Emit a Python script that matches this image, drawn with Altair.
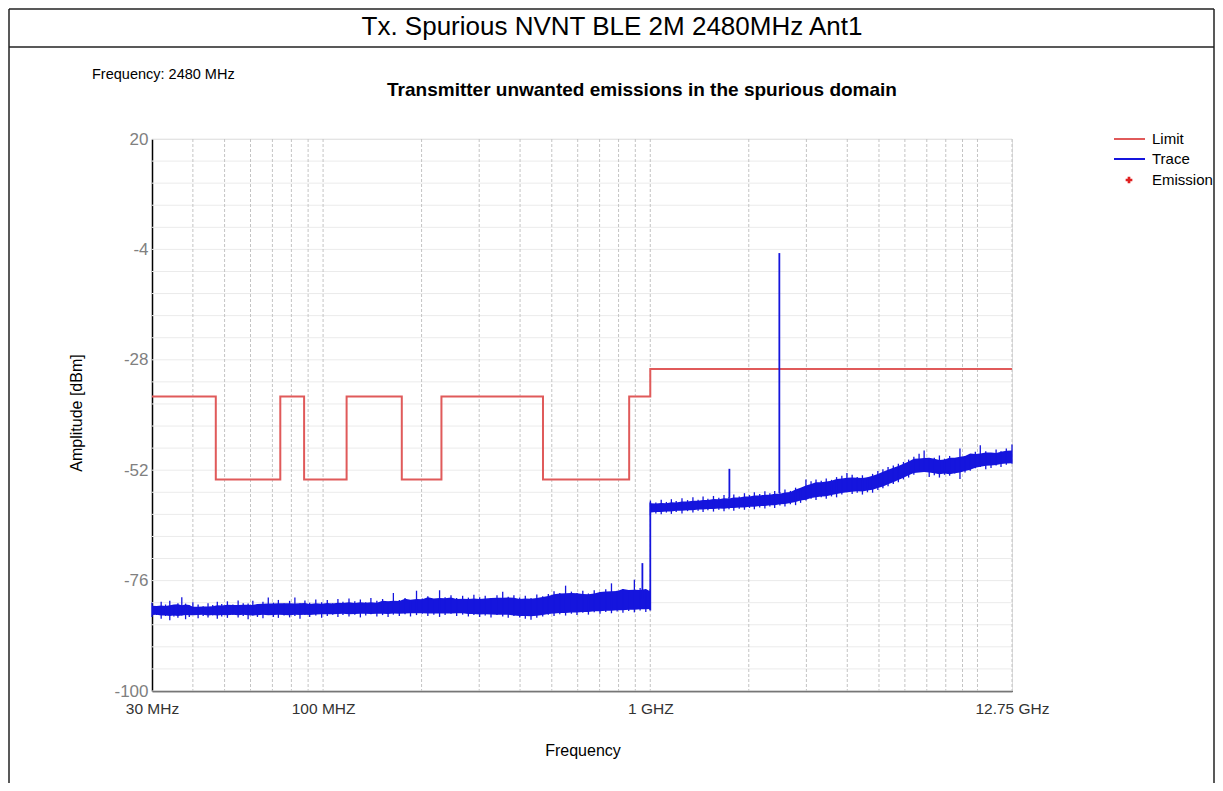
import altair as alt
import pandas as pd

# ---------------- data ----------------
# Limit line (MHz, dBm), drawn as a step-after line
limit_freq = [30, 47, 74, 87.5, 118, 174, 230, 470, 862, 1000, 12750]
limit_dbm = [-36, -54, -36, -54, -36, -54, -36, -54, -36, -30, -30]

# Trace envelope below 1 GHz (MHz) with upper / lower edge of the noisy band (dBm)
lo_freq = [30, 31, 32, 33, 34, 35, 36, 37, 38, 39, 40, 41.5, 43, 44.5, 46, 47.5, 49,
           51, 53, 55, 57, 59, 61, 63, 65.5, 68, 70.5, 73, 76, 79, 82, 85, 88, 91,
           95, 99, 103, 107, 111, 115, 120, 125, 130, 135, 140, 146, 152, 158, 164,
           171, 178, 185, 193, 201, 209, 218, 227, 236, 246, 256, 267, 278, 289,
           301, 313, 326, 340, 354, 368, 383, 399, 415, 432, 450, 469, 488, 508,
           529, 551, 574, 597, 622, 647, 674, 702, 731, 761, 792, 825, 859, 894,
           931, 969, 999]
lo_upper = [-80.8, -81.5, -80.6, -81.2, -80.4, -81.3, -80.9, -79.6, -81.0, -81.4,
            -80.7, -81.2, -81.6, -80.9, -81.3, -80.6, -81.1, -80.5, -81.2, -80.3,
            -80.9, -81.0, -80.4, -81.1, -80.6, -79.7, -80.8, -80.2, -81.0, -80.4,
            -79.7, -80.9, -80.3, -80.8, -80.1, -80.7, -80.2, -80.9, -80.0, -80.6,
            -79.9, -80.5, -80.1, -80.7, -79.8, -80.4, -80.0, -80.6, -78.7, -80.2,
            -79.8, -80.3, -78.2, -79.9, -79.4, -80.0, -78.1, -79.6, -79.2, -79.8,
            -79.3, -79.7, -79.1, -79.6, -79.3, -79.8, -79.2, -78.4, -79.5, -79.2,
            -79.7, -79.3, -79.8, -79.0, -79.4, -78.9, -78.3, -78.7, -77.1, -78.4,
            -78.7, -78.2, -78.8, -78.1, -78.5, -77.9, -76.6, -78.2, -77.8, -78.3,
            -75.8, -77.6, -78.0, -77.9]
lo_lower = [-83.9, -83.5, -84.3, -83.7, -84.6, -83.8, -84.1, -83.6, -84.4, -83.9,
            -83.5, -84.2, -83.7, -84.0, -83.6, -84.3, -83.8, -84.1, -83.5, -84.0,
            -83.7, -84.4, -83.6, -83.9, -84.2, -83.5, -83.9, -84.1, -83.6, -84.0,
            -83.7, -84.3, -83.5, -83.9, -83.6, -84.1, -83.7, -83.4, -83.9, -83.5,
            -83.8, -83.4, -84.0, -83.6, -83.3, -83.8, -83.5, -83.9, -83.4, -83.7,
            -83.3, -83.8, -83.5, -83.2, -83.7, -83.4, -83.9, -83.5, -83.2, -83.7,
            -83.4, -83.8, -83.5, -83.9, -83.6, -84.0, -83.5, -83.8, -84.1, -83.7,
            -84.0, -84.3, -84.5, -84.1, -83.8, -83.4, -83.7, -83.3, -83.6, -83.2,
            -83.5, -83.0, -83.4, -82.9, -83.2, -82.8, -83.1, -82.7, -83.0, -82.6,
            -82.9, -82.5, -82.8, -82.4]

# Trace envelope above 1 GHz
hi_freq = [1001, 1040, 1080, 1120, 1160, 1200, 1250, 1300, 1350, 1400, 1450, 1500,
           1560, 1620, 1680, 1740, 1800, 1870, 1940, 2010, 2080, 2160, 2240, 2320,
           2400, 2490, 2580, 2680, 2780, 2880, 2990, 3100, 3210, 3330, 3450, 3580,
           3710, 3850, 3990, 4140, 4290, 4450, 4610, 4780, 4960, 5140, 5330, 5530,
           5730, 5940, 6160, 6390, 6630, 6870, 7120, 7380, 7650, 7930, 8220, 8520,
           8840, 9160, 9500, 9850, 10200, 10600, 11000, 11400, 11800, 12250, 12750]
hi_upper = [-58.6, -59.0, -58.4, -58.9, -58.3, -58.7, -58.1, -58.5, -57.9, -58.4,
            -57.7, -58.2, -57.6, -58.0, -57.4, -57.8, -57.3, -57.7, -57.0, -57.4,
            -56.8, -57.2, -56.6, -57.0, -56.5, -56.8, -56.2, -56.5, -55.8, -55.9,
            -54.0, -54.4, -54.0, -54.3, -53.8, -54.1, -53.5, -53.2, -52.6, -53.0,
            -53.5, -53.1, -53.6, -52.8, -52.2, -51.8, -51.3, -51.0, -50.6, -50.2,
            -49.7, -49.1, -48.4, -47.7, -49.8, -49.3, -48.8, -49.5, -48.9, -49.4,
            -47.3, -48.9, -48.5, -48.0, -46.6, -47.9, -48.3, -47.5, -47.9, -47.3,
            -46.4]
hi_lower = [-61.8, -61.4, -61.6, -61.2, -61.5, -61.1, -61.4, -60.9, -61.2, -60.8,
            -61.1, -60.7, -61.0, -60.6, -60.9, -60.5, -60.8, -60.4, -60.6, -60.2,
            -60.5, -60.1, -60.3, -59.9, -60.2, -59.7, -59.9, -59.4, -59.6, -59.1,
            -58.6, -58.2, -58.5, -57.9, -58.2, -57.7, -57.9, -57.3, -56.8, -57.2,
            -56.9, -57.3, -56.8, -56.9, -56.3, -55.9, -55.5, -55.0, -54.6, -54.0,
            -53.6, -53.0, -52.4, -52.0, -53.5, -53.1, -53.6, -53.0, -53.2, -52.7,
            -53.9, -52.5, -52.1, -51.6, -51.3, -51.8, -51.5, -51.0, -51.3, -50.8,
            -50.6]

# Narrow vertical features of the trace (MHz, top dBm, bottom dBm):
# spike near 946 MHz, the 1 GHz step, spike at 1745 MHz, carrier at 2480 MHz
spike_freq = [946, 1000, 1745, 2480]
spike_top = [-72.2, -59.0, -51.7, -4.8]
spike_base = [-80.0, -82.5, -58.0, -57.0]

# Grid / tick positions
vgrid_freq = [40, 50, 60, 70, 80, 90, 100, 200, 300, 400, 500, 600, 700, 800, 900,
              1000, 2000, 3000, 4000, 5000, 6000, 7000, 8000, 9000, 10000, 12750]
x_tick_values = [30, 100, 1000, 12750]
x_tick_labels = ["30 MHz", "100 MHZ", "1 GHZ", "12.75 GHz"]
y_tick_values = [20, -4, -28, -52, -76, -100]

legend_names = ["Limit", "Trace", "Emission"]

# ---------------- styling ----------------
FONT = "Liberation Sans, Arial, Helvetica, sans-serif"
RED = "#e05a5a"
BLUE = "#1515dd"
W, H = 860, 552

xs = alt.Scale(type="log", domain=[30, 12750], nice=False)
ys = alt.Scale(domain=[-100, 20], nice=False, zero=False)

limit_df = pd.DataFrame({"f": limit_freq, "v": limit_dbm})
trace_df = pd.DataFrame({"f": lo_freq + hi_freq,
                         "hi": lo_upper + hi_upper,
                         "lo": lo_lower + hi_lower})
trace_df["seg"] = [0] * len(lo_freq) + [1] * len(hi_freq)
spike_df = pd.DataFrame({"f": spike_freq, "top": spike_top, "base": spike_base})
vgrid_df = pd.DataFrame({"f": vgrid_freq})
hgrid_df = pd.DataFrame({"v": [-100 + 4.8 * k for k in range(26)]})
one = pd.DataFrame({"a": [0]})

label_expr = " : ".join(
    f"datum.value == {v} ? '{t}'" for v, t in zip(x_tick_values[:-1], x_tick_labels[:-1])
) + f" : '{x_tick_labels[-1]}'"

x_axis = alt.Axis(values=x_tick_values, labelExpr=label_expr, title=None, grid=False,
                  ticks=False, domainColor="#000000", domainWidth=1.5,
                  labelFontSize=15.5, labelColor="#333333", labelPadding=10,
                  labelFont=FONT, labelOverlap=False, labelBound=False, labelFlush=False)
y_axis = alt.Axis(values=y_tick_values, labelExpr="'' + datum.value", title=None, grid=False,
                  ticks=False, domainColor="#000000", domainWidth=1.5, labelFontSize=17,
                  labelColor="#808080", labelPadding=4, labelFont=FONT,
                  labelOverlap=False, labelBound=False, labelFlush=False)

X = lambda field: alt.X(field, type="quantitative", scale=xs, axis=x_axis)
Y = lambda field: alt.Y(field, type="quantitative", scale=ys, axis=y_axis)

hgrid = alt.Chart(hgrid_df).mark_rule(color="#ebebeb", strokeWidth=1).encode(y=Y("v"))
vgrid = alt.Chart(vgrid_df).mark_rule(color="#c4c4c4", strokeWidth=1, strokeDash=[3, 2]).encode(x=X("f"))

limit = alt.Chart(limit_df).mark_line(interpolate="step-after", color=RED, strokeWidth=2).encode(
    x=X("f"), y=Y("v"))

# body of the noisy trace: running mean of the read envelope within each segment,
# drawn a little inside the envelope so the noise peaks stand out
trace_body = alt.Chart(trace_df).transform_window(
    window=[alt.WindowFieldDef(op="mean", field="hi", **{"as": "hi_m"}),
            alt.WindowFieldDef(op="mean", field="lo", **{"as": "lo_m"})],
    frame=[-2, 2], groupby=["seg"], sort=[alt.SortField(field="f", order="ascending")]
).transform_calculate(
    body_hi="datum.hi_m - 0.5", body_lo="datum.lo_m + 0.4"
).mark_area(color=BLUE, opacity=1).encode(
    x=X("f"), y=Y("body_hi"), y2=alt.Y2("body_lo"))
# fine noise peaks at each read point
trace_noise = alt.Chart(trace_df).mark_rule(color=BLUE, strokeWidth=1.3).encode(
    x=X("f"), y=Y("hi"), y2=alt.Y2("lo"))

spikes = alt.Chart(spike_df).mark_rule(color=BLUE, strokeWidth=1.8).encode(
    x=X("f"), y=Y("top"), y2=alt.Y2("base"))


def txt(s, x, y, size, weight="normal", align="center", color="#000000", angle=0, baseline="middle"):
    return alt.Chart(one).mark_text(fontSize=size, font=FONT, fontWeight=weight, align=align,
                                    baseline=baseline, color=color, angle=angle).encode(
        x=alt.value(x), y=alt.value(y), text=alt.value(s))


def rule(x1, y1, x2, y2, color="#222222", width=1.5):
    return alt.Chart(one).mark_rule(color=color, strokeWidth=width).encode(
        x=alt.value(x1), y=alt.value(y1), x2=alt.value(x2), y2=alt.value(y2))


frame = [
    rule(-143, -130, 1062, -130),
    rule(-143, -92, 1062, -92),
    rule(-143, -130, -143, 660),
    rule(1062, -130, 1062, 660),
]

texts = [
    txt("Tx. Spurious NVNT BLE 2M 2480MHz Ant1", 460, -112, 26),
    txt("Frequency: 2480 MHz", -60, -64, 14.5, align="left"),
    txt("Transmitter unwanted emissions in the spurious domain", 490, -49, 19, weight="bold"),
    txt("Amplitude [dBm]", -75, 274, 16, angle=270),
    txt("Frequency", 431, 612, 16),
]

legend = [
    rule(962, 0, 993, 0, color=RED, width=2),
    rule(962, 20, 993, 20, color=BLUE, width=2),
    alt.Chart(one).mark_point(shape="cross", filled=True, color="#e02020", size=45, opacity=1).encode(
        x=alt.value(977), y=alt.value(41)),
    txt(legend_names[0], 1000, 0, 15, align="left"),
    txt(legend_names[1], 1000, 20, 15, align="left"),
    txt(legend_names[2], 1000, 41, 15, align="left"),
]

chart = alt.layer(hgrid, vgrid, limit, trace_body, trace_noise, spikes, *frame, *texts, *legend).properties(
    width=W, height=H,
    autosize=alt.AutoSizeParams(type="none"),
    padding={"left": 144, "top": 131, "right": 203, "bottom": 92},
).configure_view(stroke=None).configure(background="white")

chart.save("out.html", embed_options={"renderer": "svg", "actions": False})
